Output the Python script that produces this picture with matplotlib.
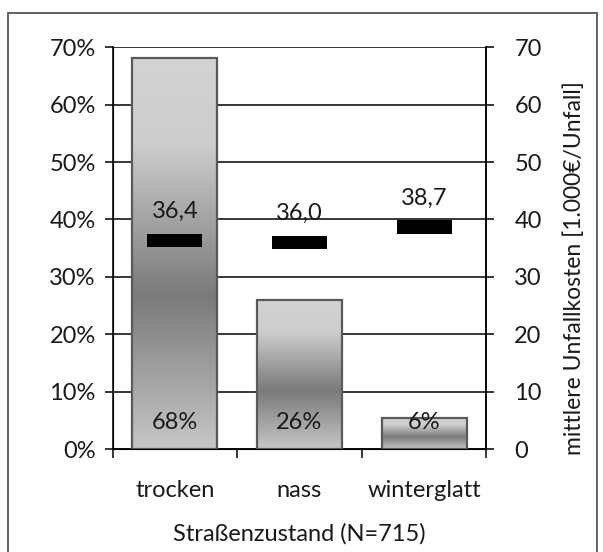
import numpy as np
import matplotlib
matplotlib.use("Agg")
import matplotlib.pyplot as plt
from matplotlib.colors import LinearSegmentedColormap
from matplotlib.patches import Rectangle

plt.rcParams['font.family'] = ['Lato', 'DejaVu Sans']

# Data
categories = ["trocken", "nass", "winterglatt"]
share_pct = [68.2, 26.0, 5.4]
share_labels = ["68%", "26%", "6%"]
mean_cost = [36.4, 36.0, 38.7]
cost_labels = ["36,4", "36,0", "38,7"]
pct_ticks = [0, 10, 20, 30, 40, 50, 60, 70]
cost_ticks = [0, 10, 20, 30, 40, 50, 60, 70]

TXT = "#1a1a1a"
FS = 17

fig = plt.figure(figsize=(6.03, 5.52), dpi=100)
fig.patch.set_facecolor("white")

# grey frame around the whole chart
fig.add_artist(Rectangle((8 / 603, -0.05), (597 - 8) / 603, 1.05 - 13 / 552,
                         transform=fig.transFigure, fill=False,
                         edgecolor="#555555", linewidth=1.3))

ax = fig.add_axes([112.5 / 603, 1 - 449 / 552, (486.5 - 112.5) / 603, (449 - 47.3) / 552])
x = np.arange(len(categories))
bar_w = 0.68

# vertical grey gradient used as bar fill (top -> bottom)
grad = LinearSegmentedColormap.from_list(
    "bargrad",
    [(0.0, "#d3d3d3"), (0.22, "#cdcdcd"), (0.61, "#7a7a7a"), (1.0, "#c6c6c6")])

bars = ax.bar(x, share_pct, width=bar_w, facecolor="none",
              edgecolor="#5a5a5a", linewidth=1.6, zorder=3)
for b in bars:
    x0, y0 = b.get_x(), b.get_y()
    w, h = b.get_width(), b.get_height()
    img = np.linspace(0, 1, 256).reshape(-1, 1)
    im = ax.imshow(img, cmap=grad, aspect="auto", origin="upper",
                   extent=[x0, x0 + w, y0, y0 + h], zorder=2,
                   interpolation="bilinear")
    im.set_clip_path(b)

for xi, lab in zip(x, share_labels):
    ax.text(xi, 4.6, lab, ha="center", va="center", fontsize=FS,
            color=TXT, zorder=5)

ax.set_xlim(-0.5, 2.5)
ax.set_ylim(0, 70)
ax.set_yticks(pct_ticks)
ax.set_yticklabels([f"{t}%" for t in pct_ticks], fontsize=FS, color=TXT)
ax.set_xticks([-0.5, 0.5, 1.5, 2.5])
ax.set_xticklabels([])
ax.set_xticks(x, minor=True)
ax.set_xticklabels(categories, minor=True, fontsize=FS, color=TXT)
ax.tick_params(axis="x", which="major", direction="out", length=6.5, width=1.1)
ax.tick_params(axis="x", which="minor", length=0, pad=22)
ax.tick_params(axis="y", direction="out", length=6, width=1.1, pad=6)
ax.yaxis.grid(True, color="black", linewidth=1.1)
ax.set_axisbelow(True)
for s in ["left", "bottom", "right"]:
    ax.spines[s].set_linewidth(1.1)
ax.spines["top"].set_visible(False)
ax.set_xlabel("Straßenzustand (N=715)", fontsize=FS, labelpad=16, color=TXT)

ax2 = ax.twinx()
ax2.set_ylim(0, 70)
marker_h = 2.3
ax2.bar(x, [marker_h] * len(x), bottom=[c - marker_h / 2 for c in mean_cost],
        width=0.44, color="black", zorder=4)
for xi, c, lab in zip(x, mean_cost, cost_labels):
    ax2.text(xi, c + 5.0, lab, ha="center", va="center", fontsize=FS,
             color=TXT, zorder=5)
ax2.set_yticks(cost_ticks)
ax2.set_yticklabels([str(t) for t in cost_ticks], fontsize=FS, color=TXT)
ax2.tick_params(axis="y", direction="out", length=6, width=1.1, pad=14)
ax2.spines["top"].set_visible(False)
ax2.spines["right"].set_linewidth(1.1)
ax2.set_ylabel("mittlere Unfallkosten [1.000€/Unfall]", fontsize=16.5, color=TXT)
ax2.yaxis.set_label_coords(1.205, 0.45)

fig.savefig("out.png", dpi=100)
